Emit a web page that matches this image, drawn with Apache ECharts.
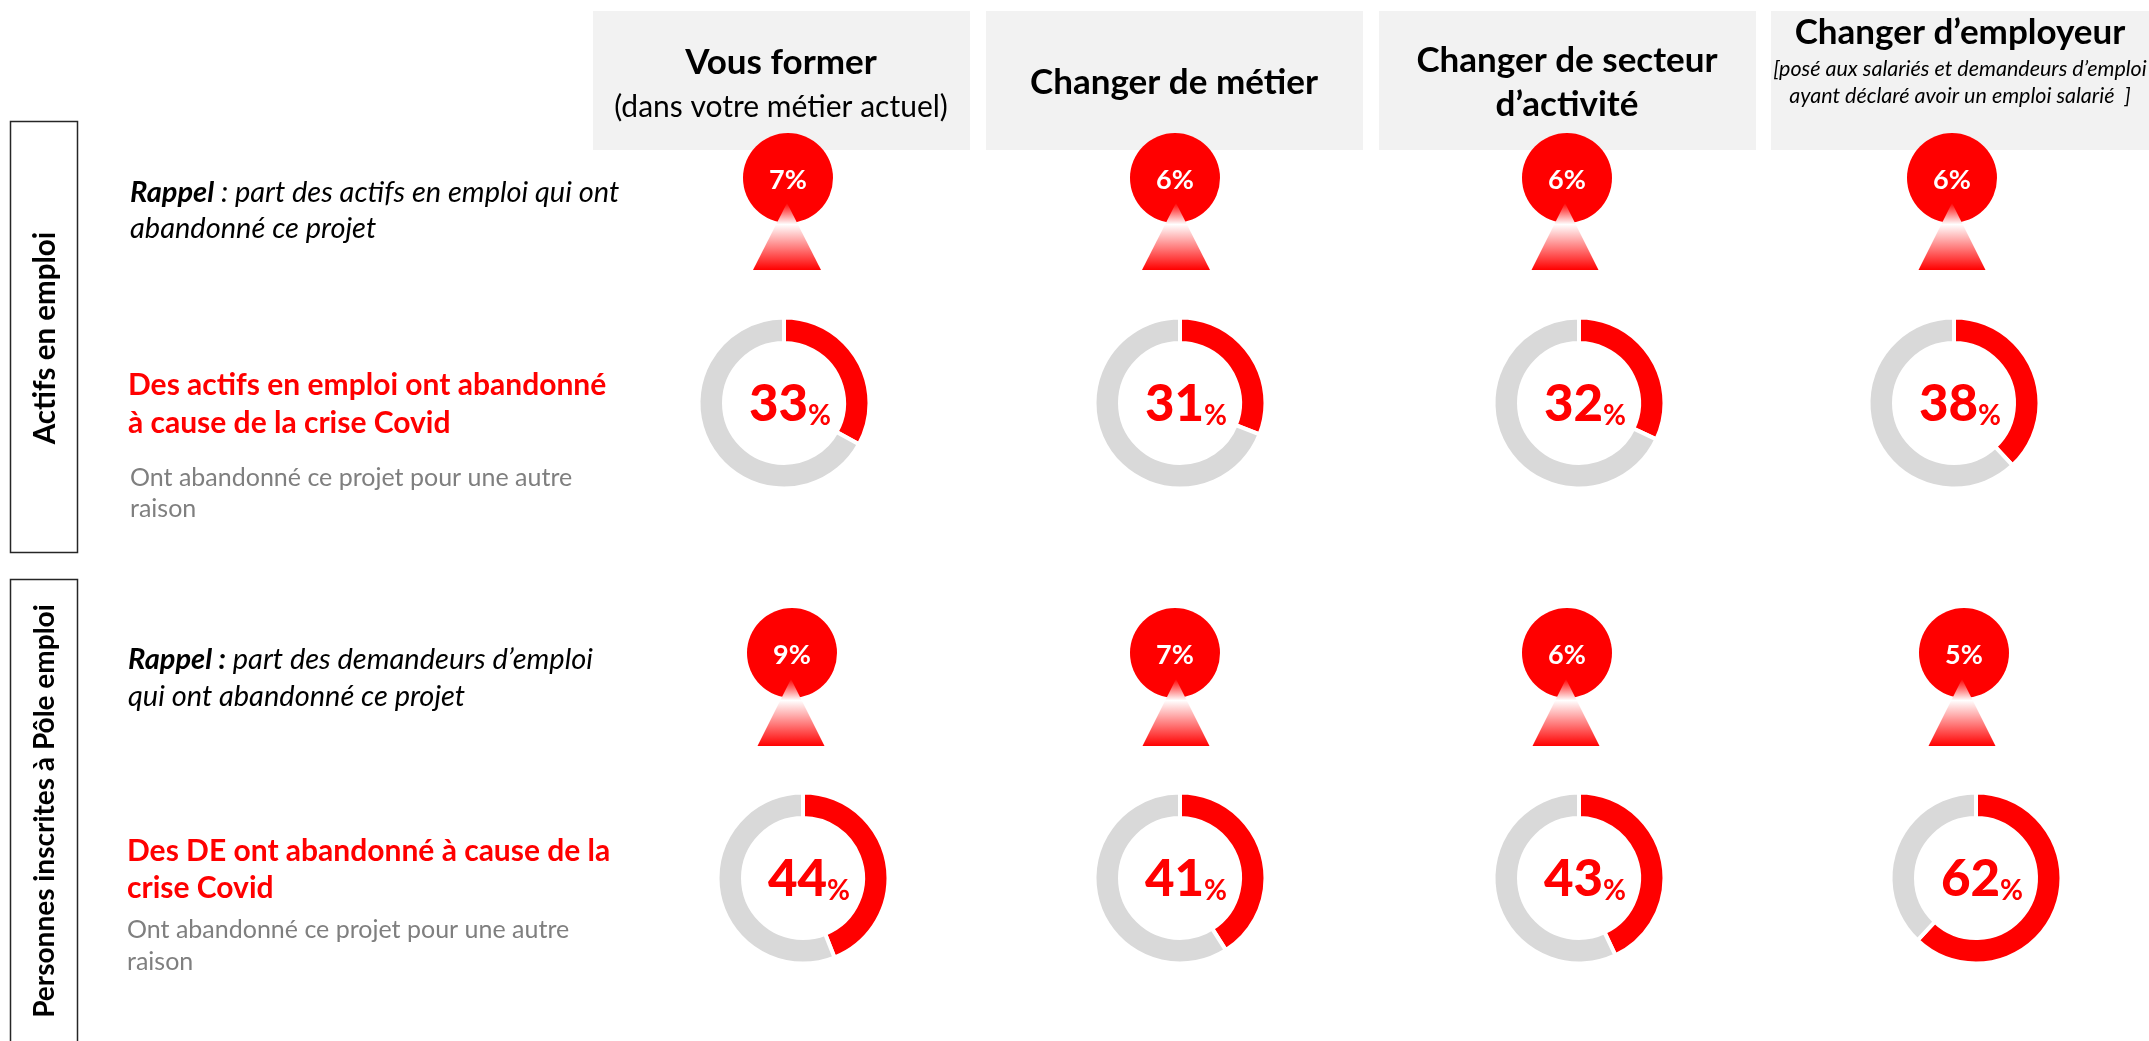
<!DOCTYPE html>
<html>
<head>
<meta charset="utf-8">
<title>Abandon de projet</title>
<style>
  html, body { margin: 0; padding: 0; background: #fff; overflow: hidden; }
  #main { width: 2149px; height: 1041px; }
</style>
</head>
<body>
<div id="main"></div>
<script src="https://cdn.jsdelivr.net/npm/echarts@6/dist/echarts.min.js"></script>
<script>
// values
var projets = ['Vous former', 'Changer de métier', 'Changer de secteur d’activité', 'Changer d’employeur']
var rappelActifs = [7, 6, 6, 6]
var covidActifs = [33, 31, 32, 38]
var rappelDE = [9, 7, 6, 5]
var covidDE = [44, 41, 43, 62]
var groupes = ['Actifs en emploi', 'Personnes inscrites à Pôle emploi']

// layout, in px
var RED = '#ff0000'
var GREY = '#d9d9d9'
var FONT = 'Lato'
var boxX = [[593, 970], [986, 1363], [1379, 1756], [1771, 2160]]
var bubbleX1 = [788, 1175, 1567, 1952]
var bubbleX2 = [792, 1175, 1567, 1964]
var triX1 = [787, 1176, 1565, 1952]
var triX2 = [791, 1176, 1566, 1962]
var triW = [68, 68, 67, 67]
var triW2 = [67, 67, 67, 67]
var donutX1 = [784, 1180, 1579, 1954]
var donutX2 = [803, 1180, 1579, 1976]

var elements = []

function text (x, y, str, opt) {
  elements.push({
    type: 'text',
    x: x,
    y: y,
    z: 20,
    rotation: opt.rotation || 0,
    style: {
      text: str,
      fill: opt.color || '#000',
      font: (opt.italic ? 'italic ' : '') + (opt.bold ? 'bold ' : '') + opt.size + 'px ' + FONT,
      align: opt.align || 'left',
      verticalAlign: 'middle',
      rich: opt.rich
    }
  })
}

// grey header boxes
boxX.forEach(function (b) {
  elements.push({
    type: 'rect',
    z: 0,
    shape: { x: b[0], y: 11, width: b[1] - b[0], height: 139 },
    style: { fill: '#f2f2f2' }
  })
})

// left frames
elements.push({ type: 'rect', z: 0, shape: { x: 10.5, y: 121.5, width: 67, height: 431 }, style: { fill: 'none', stroke: '#262626', lineWidth: 1.5 } })
elements.push({ type: 'rect', z: 0, shape: { x: 10.5, y: 579.5, width: 67, height: 490 }, style: { fill: 'none', stroke: '#262626', lineWidth: 1.5 } })
text(45, 338, groupes[0], { size: 29.5, bold: true, align: 'center', rotation: Math.PI / 2 })
text(45, 811, groupes[1], { size: 28, bold: true, align: 'center', rotation: Math.PI / 2 })

// headers
text(781, 63, projets[0], { size: 35, bold: true, align: 'center' })
text(781, 107, '(dans votre métier actuel)', { size: 30, align: 'center' })
text(1174, 83, projets[1], { size: 35, bold: true, align: 'center' })
text(1567, 61, 'Changer de secteur', { size: 35, bold: true, align: 'center' })
text(1567, 105, 'd’activité', { size: 35, bold: true, align: 'center' })
text(1960, 33, projets[3], { size: 35, bold: true, align: 'center' })
text(1960, 69, '[posé aux salariés et demandeurs d’emploi', { size: 21.5, italic: true, align: 'center' })
text(1960, 96, 'ayant déclaré avoir un emploi salarié  ]', { size: 21.5, italic: true, align: 'center' })

// left captions
var richRappel = {
  b: { font: 'italic bold 29px ' + FONT, fill: '#000', color: '#000' },
  i: { font: 'italic 29px ' + FONT, fill: '#000', color: '#000' }
}
text(130, 193, '{b|Rappel}{i| : part des actifs en emploi qui ont}', { size: 29, italic: true, rich: richRappel })
text(130, 229, 'abandonné ce projet', { size: 29, italic: true })
text(128, 385, 'Des actifs en emploi ont abandonné', { size: 30, bold: true, color: RED })
text(128, 423, 'à cause de la crise Covid', { size: 30, bold: true, color: RED })
text(130, 478, 'Ont abandonné ce projet pour une autre', { size: 25, color: '#7f7f7f' })
text(130, 509, 'raison', { size: 25, color: '#7f7f7f' })

text(128, 660, '{b|Rappel :}{i| part des demandeurs d’emploi}', { size: 29, italic: true, rich: richRappel })
text(128, 697, 'qui ont abandonné ce projet', { size: 29, italic: true })
text(127, 851, 'Des DE ont abandonné à cause de la', { size: 30, bold: true, color: RED })
text(127, 888, 'crise Covid', { size: 30, bold: true, color: RED })
text(127, 930, 'Ont abandonné ce projet pour une autre', { size: 25, color: '#7f7f7f' })
text(127, 962, 'raison', { size: 25, color: '#7f7f7f' })

// triangles under the bubbles
function triangle (cx, top, w) {
  elements.push({
    type: 'polygon',
    z: 10,
    shape: { points: [[cx, top], [cx + w / 2, top + 67], [cx - w / 2, top + 67]] },
    style: {
      fill: new echarts.graphic.LinearGradient(0, 0, 0, 1, [
        { offset: 0, color: RED },
        { offset: 0.32, color: '#ffffff' },
        { offset: 1, color: RED }
      ])
    }
  })
}
triX1.forEach(function (x, i) { triangle(x, 203, triW[i]) })
triX2.forEach(function (x, i) { triangle(x, 679, triW2[i]) })

var series = []

function bubble (x, y, v) {
  series.push({
    type: 'pie',
    silent: true,
    center: [x, y],
    radius: [0, 45],
    z: 5,
    data: [{ value: v, name: v + '%' }],
    itemStyle: { color: RED },
    label: {
      position: 'center',
      formatter: '{b}',
      color: '#fff',
      fontFamily: FONT,
      fontWeight: 'bold',
      fontSize: 27,
      offset: [0, 2]
    },
    labelLine: { show: false }
  })
}

function donut (x, y, v) {
  series.push({
    type: 'pie',
    silent: true,
    center: [x, y],
    radius: [60, 85.5],
    startAngle: 90,
    clockwise: true,
    z: 5,
    data: [
      {
        value: v,
        itemStyle: { color: RED },
        label: {
          show: true,
          position: 'center',
          formatter: '{n|' + v + '}{p|%}',
          offset: [6, 0],
          rich: {
            n: { fontFamily: FONT, fontWeight: 900, fontSize: 51, color: RED, verticalAlign: 'bottom', lineHeight: 54 },
            p: { fontFamily: FONT, fontWeight: 'bold', fontSize: 28, color: RED, verticalAlign: 'bottom', lineHeight: 40 }
          }
        }
      },
      { value: 100 - v, itemStyle: { color: GREY }, label: { show: false } }
    ],
    itemStyle: { borderColor: '#fff', borderWidth: 4 },
    labelLine: { show: false }
  })
}

for (var i = 0; i < projets.length; i++) {
  bubble(bubbleX1[i], 178, rappelActifs[i])
  bubble(bubbleX2[i], 653, rappelDE[i])
  donut(donutX1[i], 403, covidActifs[i])
  donut(donutX2[i], 878, covidDE[i])
}

var chart = echarts.init(document.getElementById('main'))
chart.setOption({
  animation: false,
  backgroundColor: '#fff',
  graphic: { elements: elements },
  series: series
})
</script>
</body>
</html>
